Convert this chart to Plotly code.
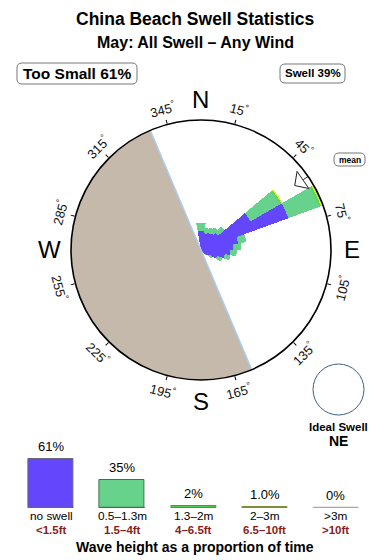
import math
import plotly.graph_objects as go

# ---------------- data ----------------
dir_bins = [5, 15, 25, 35, 45, 55, 65, 75, 85, 95, 105, 115, 125, 135, 145, 155, 355]
swell_lt05 = [3.0, 2.6, 2.8, 3.0, 3.4, 8.8, 14.3, 5.8, 5.0, 4.5, 3.7, 2.6, 1.4, 0.8, 0.4, 0.2, 2.9]
swell_05_13 = [1.2, 0.9, 0.9, 1.0, 1.3, 5.2, 5.0, 1.3, 1.2, 1.0, 0.9, 0.9, 0.6, 0.3, 0.2, 0.1, 1.3]
swell_13_2 = [0, 0, 0, 0, 0, 0.3, 0.35, 0, 0, 0, 0, 0, 0, 0, 0, 0, 0]
swell_2_3 = [0, 0, 0, 0, 0, 0.2, 0.25, 0, 0, 0, 0, 0, 0, 0, 0, 0, 0]
swell_gt3 = [0] * 17
rose_max = 20.0
land_from, land_to = 157, 337
mean_dir = 55.5

compass_ticks = [15, 45, 75, 105, 135, 165, 195, 225, 255, 285, 315, 345]
cardinals = ["N", "E", "S", "W"]
cardinal_dirs = [0, 90, 180, 270]

hgt_cats = ["no swell", "0.5\u20131.3m", "1.3\u20132m", "2\u20133m", ">3m"]
hgt_ft = ["<1.5ft", "1.5\u20134ft", "4\u20136.5ft", "6.5\u201310ft", ">10ft"]
hgt_pct = [61, 35, 2, 1.0, 0]
hgt_lbl = ["61%", "35%", "2%", "1.0%", "0%"]

colors = ["#6446fd", "#66d28c", "#5ad65a", "#dcec34", "#c9abab"]
legend_outline = ["#666677", "#4b6b52", "#3e9e3e", "#7d8f35", "#b8a0a0"]

# ---------------- geometry helpers (pixels -> paper) ----------------
W, H = 390, 560
cx, cy, R = 201, 250, 130


def px(x):
    return x / W


def py(y):
    return 1 - y / H


def polar_px(bearing, rpx):
    a = math.radians(bearing)
    return cx + rpx * math.sin(a), cy - rpx * math.cos(a)


def rrect(x0, y0, x1, y1, r):
    pts = [
        f"M{px(x0 + r)},{py(y0)}",
        f"L{px(x1 - r)},{py(y0)}",
        f"Q{px(x1)},{py(y0)} {px(x1)},{py(y0 + r)}",
        f"L{px(x1)},{py(y1 - r)}",
        f"Q{px(x1)},{py(y1)} {px(x1 - r)},{py(y1)}",
        f"L{px(x0 + r)},{py(y1)}",
        f"Q{px(x0)},{py(y1)} {px(x0)},{py(y1 - r)}",
        f"L{px(x0)},{py(y0 + r)}",
        f"Q{px(x0)},{py(y0)} {px(x0 + r)},{py(y0)}",
        "Z",
    ]
    return " ".join(pts)


FONT = "Liberation Sans, Arial, sans-serif"
fig = go.Figure()

# land sector
land_w = (land_to - land_from) % 360
fig.add_trace(go.Barpolar(
    theta=[land_from + land_w / 2], r=[rose_max], width=[land_w],
    marker=dict(color="#c4b9ab", line=dict(width=0)), hoverinfo="skip", showlegend=False))
fig.add_trace(go.Scatterpolar(
    theta=[land_to, 0, land_from], r=[rose_max, 0, rose_max], mode="lines",
    line=dict(color="#a9cff0", width=1.5), hoverinfo="skip", showlegend=False))

for vals, col in zip([swell_lt05, swell_05_13, swell_13_2, swell_2_3, swell_gt3], colors):
    fig.add_trace(go.Barpolar(
        theta=dir_bins, r=vals, width=[10] * len(dir_bins),
        marker=dict(color=col, line=dict(width=0)), showlegend=False))

# mean arrow (open arrow head pointing inward)
tip_r, base_r = 0.875 * rose_max, 0.955 * rose_max
fig.add_trace(go.Scatterpolar(
    theta=[mean_dir, mean_dir - 4.8, mean_dir + 4.8, mean_dir],
    r=[tip_r, base_r, base_r, tip_r], mode="lines", fill="toself",
    fillcolor="white", line=dict(color="#222", width=1), hoverinfo="skip", showlegend=False))
fig.add_trace(go.Scatterpolar(
    theta=[mean_dir, mean_dir], r=[base_r, rose_max], mode="lines",
    line=dict(color="#222", width=1), hoverinfo="skip", showlegend=False))

# height-distribution bars
xs = list(range(len(hgt_cats)))
for i in xs:
    fig.add_trace(go.Scatter(
        x=[i - 0.315, i + 0.315], y=[0, 0], mode="lines", xaxis="x", yaxis="y",
        line=dict(color=legend_outline[i], width=2.5), hoverinfo="skip", showlegend=False))
fig.add_trace(go.Bar(
    x=xs, y=hgt_pct, width=0.63, xaxis="x", yaxis="y",
    marker=dict(color=colors, line=dict(color=legend_outline, width=1)),
    showlegend=False))

annotations = []
# compass degree labels
for b in compass_ticks:
    x, y = polar_px(b, 146)
    ang = b
    if 90 < ang < 270:
        ang -= 180
    elif ang >= 270:
        ang -= 360
    annotations.append(dict(x=px(x), y=py(y), xref="paper", yref="paper",
                            text=f"{b}<sup>°</sup>", showarrow=False, textangle=ang,
                            font=dict(family=FONT, size=13, color="#111"),
                            xanchor="center", yanchor="middle"))
for lab, b in zip(cardinals, cardinal_dirs):
    x, y = polar_px(b, 151)
    annotations.append(dict(x=px(x), y=py(y), xref="paper", yref="paper",
                            text=lab, showarrow=False,
                            font=dict(family=FONT, size=24, color="black"),
                            xanchor="center", yanchor="middle"))


def ptext(x, y, text, size):
    return dict(x=px(x), y=py(y), xref="paper", yref="paper", text=text,
                showarrow=False, font=dict(family=FONT, size=size, color="black"),
                xanchor="center", yanchor="middle", borderpad=0)


annotations += [
    ptext(195, 19, "<b>China Beach Swell Statistics</b>", 17.5),
    ptext(195, 43, "<b>May: All Swell \u2013 Any Wind</b>", 16),
    ptext(77, 73.5, "<b>Too Small 61%</b>", 15.5),
    ptext(312.5, 73.5, "<b>Swell 39%</b>", 11.5),
    ptext(349.5, 159.5, "<b>mean</b>", 8.5),
    ptext(338.5, 427, "<b>Ideal Swell</b>", 11.5),
    ptext(338.5, 441, "<b>NE</b>", 14),
    ptext(195, 546.5, "<b>Wave height as a proportion of time</b>", 14),
]
for i in xs:
    annotations.append(dict(x=i, y=hgt_pct[i], xref="x", yref="y", text=hgt_lbl[i],
                            showarrow=False, xanchor="center", yanchor="bottom", yshift=3,
                            font=dict(family=FONT, size=13, color="black")))
    annotations.append(dict(x=i, y=py(516.3), xref="x", yref="paper", text=hgt_cats[i],
                            showarrow=False, xanchor="center", yanchor="middle", borderpad=0,
                            font=dict(family=FONT, size=11.8, color="black")))
    annotations.append(dict(x=i, y=py(530.2), xref="x", yref="paper", text=f"<b>{hgt_ft[i]}</b>",
                            showarrow=False, xanchor="center", yanchor="middle", borderpad=0,
                            font=dict(family=FONT, size=11.5, color="#8a1c1c")))

shapes = [
    dict(type="path", xref="paper", yref="paper", path=rrect(17, 63, 137, 84, 5),
         line=dict(color="#777", width=1), fillcolor="rgba(0,0,0,0)"),
    dict(type="path", xref="paper", yref="paper", path=rrect(280, 64, 345, 83, 5),
         line=dict(color="#777", width=1), fillcolor="rgba(0,0,0,0)"),
    dict(type="path", xref="paper", yref="paper", path=rrect(334, 153, 365, 166, 5),
         line=dict(color="#777", width=1), fillcolor="rgba(0,0,0,0)"),
    dict(type="circle", xref="paper", yref="paper",
         x0=px(313), x1=px(364), y0=py(415), y1=py(364),
         line=dict(color="#3d5f86", width=1)),
]

fig.update_layout(
    width=W, height=H, margin=dict(l=0, r=0, t=0, b=0),
    paper_bgcolor="white", plot_bgcolor="white",
    font=dict(family=FONT),
    polar=dict(
        domain=dict(x=[px(cx - R), px(cx + R)], y=[py(cy + R), py(cy - R)]),
        bgcolor="white", barmode="stack",
        radialaxis=dict(visible=False, range=[0, rose_max]),
        angularaxis=dict(rotation=90, direction="clockwise", showgrid=False,
                         showline=True, linecolor="black", linewidth=1.6,
                         tickmode="array", tickvals=compass_ticks, ticks="outside",
                         ticklen=4, tickcolor="black", showticklabels=False),
    ),
    xaxis=dict(domain=[px(15.4), px(371.6)], range=[-0.5, 4.5], visible=False, fixedrange=True),
    yaxis=dict(domain=[py(508), py(458)], range=[0, 62.5], visible=False, fixedrange=True),
    annotations=annotations, shapes=shapes,
    bargap=0,
)

fig.write_html("out.html")
